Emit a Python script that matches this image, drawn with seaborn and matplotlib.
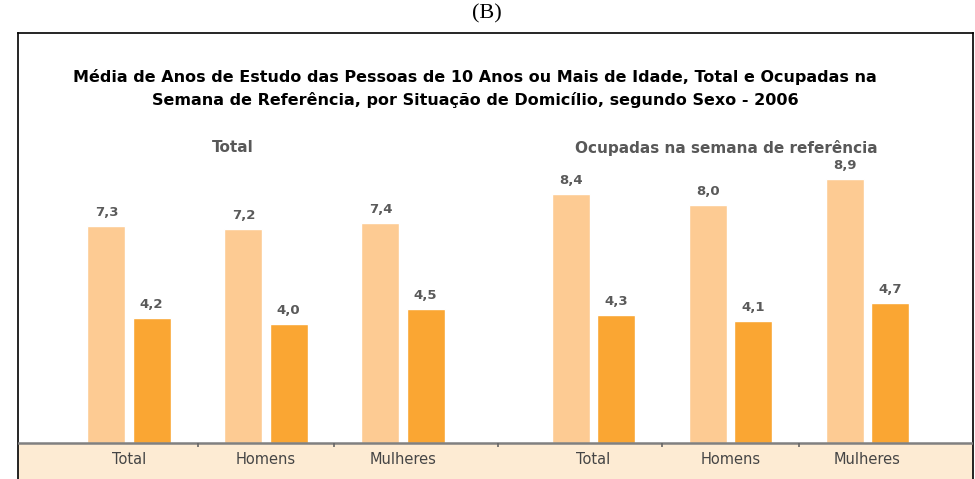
import matplotlib

matplotlib.use("Agg")
import matplotlib.pyplot as plt
import pandas as pd
import seaborn as sns

# values (anos de estudo)
categories = ["Total", "Homens", "Mulheres", "Total", "Homens", "Mulheres"]
urbana = [7.3, 7.2, 7.4, 8.4, 8.0, 8.9]
rural = [4.2, 4.0, 4.5, 4.3, 4.1, 4.7]
series_names = ["Urbana", "Rural"]
group_titles = ["Total", "Ocupadas na semana de referência"]

title = ("Média de Anos de Estudo das Pessoas de 10 Anos ou Mais de Idade, Total e Ocupadas na\n"
         "Semana de Referência, por Situação de Domicílio, segundo Sexo - 2006")

# layout: second block is shifted to leave a wider gap
x_pos = [0, 1, 2, 3.39, 4.39, 5.39]

W, H = 975, 479
light, dark = "#FDCB93", "#FAA633"
peach = "#FDEBD3"
base_px, px_per_unit = 443, 29.7

df = pd.DataFrame({
    "pos": x_pos * 2,
    "valor": urbana + rural,
    "serie": [series_names[0]] * len(urbana) + [series_names[1]] * len(rural),
})

sns.set_theme(style="white")
plt.rcParams["font.family"] = ["DejaVu Sans"]

fig = plt.figure(figsize=(W / 100, H / 100), dpi=100)
ax = fig.add_axes([18 / W, 0, (973 - 18) / W, (H - 33) / H])

sns.barplot(
    data=df, x="pos", y="valor", hue="serie", native_scale=True,
    palette=[light, dark], saturation=1, width=0.66, gap=0.16,
    legend=False, ax=ax,
)

for cont in ax.containers:
    ax.bar_label(cont, labels=[f"{v:.1f}".replace(".", ",") for v in cont.datavalues],
                 padding=5, fontsize=9.5, fontweight="bold", color="#5a5a5a")

ax.set_ylim(-(H - base_px) / px_per_unit, (base_px - 33) / px_per_unit)
ax.set_xlim((18 - 129) / 137, (973 - 129) / 137)

ax.axhspan(-5, 0, color=peach, zorder=0, lw=0)
ax.axhline(0, color="#808080", lw=1.8, zorder=3)

ax.set_xticks([])
ax.set_yticks([])
for xp, lab in zip(x_pos, categories):
    ax.text(xp, -(460 - base_px) / px_per_unit, lab, ha="center", va="center",
            fontsize=10.5, color="#454545")
mids = [(a + b) / 2 for a, b in zip(x_pos[:-1], x_pos[1:])]
ax.plot(mids, [-0.08] * len(mids), ls="none", marker="|", ms=3, mew=1.2,
        color="#666666", zorder=4)
ax.set_xlabel("")
ax.set_ylabel("")

for side in ["left", "top", "right"]:
    ax.spines[side].set_color("black")
    ax.spines[side].set_linewidth(1.2)
ax.spines["bottom"].set_visible(False)

for t, xc in zip(group_titles, [233, 726]):
    fig.text(xc / W, 1 - 148 / H, t, fontsize=11, fontweight="bold",
             color="#585858", ha="center", va="center")

fig.text(475 / W, 1 - 88.5 / H, title, ha="center", va="center", fontsize=11.5,
         fontweight="bold", color="black", linespacing=1.55)
fig.text(487 / W, 1 - 14 / H, "(B)", ha="center", va="center", fontsize=16,
         family="Liberation Serif", color="black")

fig.savefig("out.png", dpi=100)
